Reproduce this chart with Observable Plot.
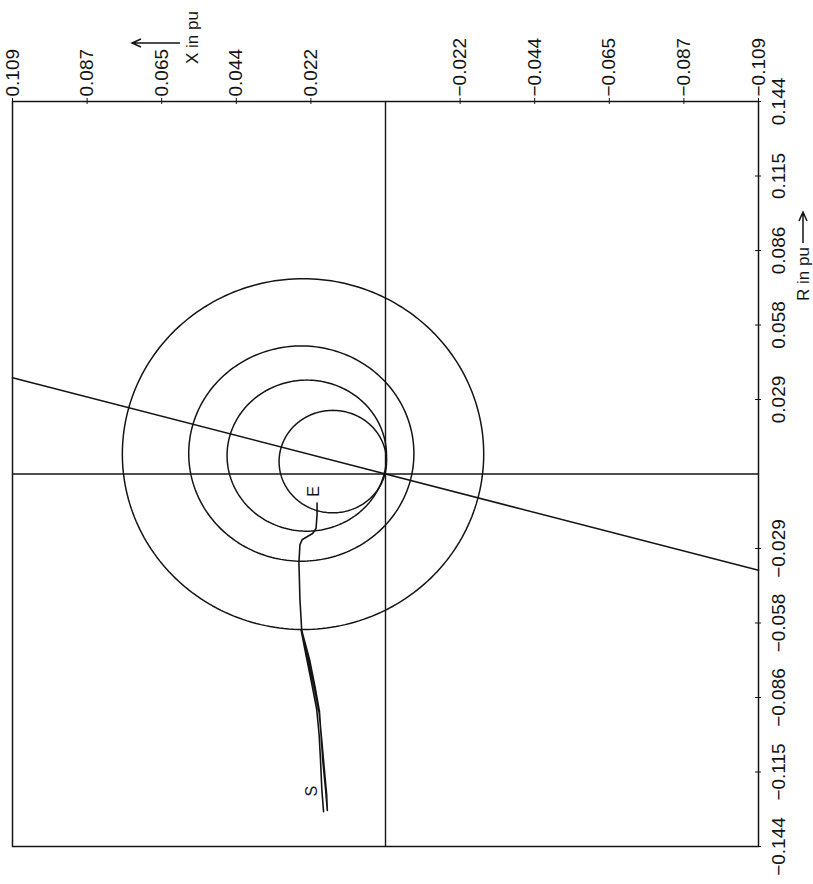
<!DOCTYPE html>
<html>
<head>
<meta charset="utf-8">
<script src="https://cdn.jsdelivr.net/npm/d3@7"></script>
<script src="https://cdn.jsdelivr.net/npm/@observablehq/plot@0.6"></script>
<style>
  html, body { margin: 0; padding: 0; background: #fff; }
  #wrap { position: relative; width: 813px; height: 884px; overflow: hidden; background: #fff; }
  /* the R–X diagram is drawn upright, then turned a quarter turn anticlockwise */
  #wrap svg { position: absolute; left: 0; top: 0; max-width: none !important; width: 884px !important; height: 813px !important;
              transform-origin: 0 0; transform: translateY(884px) rotate(-90deg); }
</style>
</head>
<body>
<div id="wrap"></div>
<script>
// Axis ticks (per-unit) and their printed labels
const rTicks = [-0.144, -0.1152, -0.0864, -0.0576, -0.0288, 0.0288, 0.0576, 0.0864, 0.1152, 0.144];
const rTickLabels = ["−0.144", "−0.115", "−0.086", "−0.058", "−0.029", "0.029", "0.058", "0.086", "0.115", "0.144"];
const xTicks = [-0.109, -0.0872, -0.0654, -0.0436, -0.0218, 0.0218, 0.0436, 0.0654, 0.0872, 0.109];
const xTickLabels = ["−0.109", "−0.087", "−0.065", "−0.044", "−0.022", "0.022", "0.044", "0.065", "0.087", "0.109"];

// Relay characteristic circles: centre and semi-axes (R, X in pu)
const circleCentreR = [0.0077, 0.0079, 0.0071, 0.0048];
const circleCentreX = [0.0241, 0.0246, 0.0230, 0.0154];
const circleRadiusR = [0.0678, 0.0416, 0.0292, 0.0198];
const circleRadiusX = [0.0528, 0.0329, 0.0233, 0.0157];

// Line impedance characteristic
const lineR = [-0.0372, 0.0372];
const lineX = [-0.109, 0.109];

// Apparent impedance locus from start (S) to end (E)
const trajR = [-0.1305, -0.1220, -0.1104, -0.1007, -0.0910, -0.0814, -0.0709, -0.0601,
               -0.0609, -0.0717, -0.0822, -0.0918, -0.1015, -0.1112, -0.1220, -0.1301,
               -0.1239, -0.1123, -0.1019, -0.0922, -0.0814, -0.0709, -0.0601,
               -0.0485, -0.0342, -0.0273, -0.0253, -0.0230, -0.0211, -0.0157, -0.0112];
const trajX = [0.0181, 0.0186, 0.0190, 0.0194, 0.0201, 0.0215, 0.0231, 0.0247,
               0.0244, 0.0222, 0.0206, 0.0193, 0.0188, 0.0183, 0.0175, 0.0170,
               0.0172, 0.0180, 0.0187, 0.0194, 0.0210, 0.0227, 0.0245,
               0.0250, 0.0253, 0.0250, 0.0243, 0.0213, 0.0203, 0.0200, 0.0200];

const pointLabels = ["S", "E"];
const pointLabelR = [-0.1226, -0.0067];
const pointLabelX = [0.0214, 0.0210];

// Build tables for the marks
const circleRows = [];
circleCentreR.forEach((cr, i) => {
  for (let k = 0; k <= 240; k++) {
    const t = (2 * Math.PI * k) / 240;
    circleRows.push({id: i, r: cr + circleRadiusR[i] * Math.cos(t), x: circleCentreX[i] + circleRadiusX[i] * Math.sin(t)});
  }
});
const lineRows = lineR.map((r, i) => ({r, x: lineX[i]}));
const trajRows = trajR.map((r, i) => ({r, x: trajX[i]}));
const labelRows = pointLabels.map((t, i) => ({t, r: pointLabelR[i], x: pointLabelX[i]}));

const ink = "#141414";
const chart = Plot.plot({
  width: 884,
  height: 813,
  marginLeft: 37,
  marginRight: 102,
  marginTop: 12,
  marginBottom: 55,
  x: {domain: [-0.144, 0.144]},
  y: {domain: [-0.109, 0.109]},
  style: {fontFamily: "'Liberation Sans', Arial, sans-serif", fontSize: "19px", color: ink, background: "#fff"},
  marks: [
    Plot.frame({stroke: ink, strokeWidth: 1.5}),
    Plot.ruleX([0], {stroke: ink, strokeWidth: 1.4}),
    Plot.ruleY([0], {stroke: ink, strokeWidth: 1.4}),
    Plot.line(circleRows, {x: "r", y: "x", z: "id", stroke: ink, strokeWidth: 1.5}),
    Plot.line(lineRows, {x: "r", y: "x", stroke: ink, strokeWidth: 1.5}),
    Plot.line(trajRows, {x: "r", y: "x", stroke: ink, strokeWidth: 1.6, strokeLinejoin: "round"}),
    Plot.text(labelRows, {x: "r", y: "x", text: "t", fontSize: 16, fill: ink}),
    Plot.axisX(rTicks, {anchor: "bottom", tickSize: 6, dy: -3, tickFormat: () => "", label: null}),
    Plot.axisX(rTicks, {anchor: "bottom", tickSize: 0, tickPadding: 13, tickFormat: d => rTickLabels[rTicks.indexOf(d)], label: null}),
    Plot.axisY(xTicks, {anchor: "right", tickSize: 6, dx: -3, tickFormat: () => "", label: null}),
    Plot.axisY(xTicks, {anchor: "right", tickSize: 0, tickPadding: 5, tickFormat: d => xTickLabels[xTicks.indexOf(d)], label: null})
  ]
});

// Axis titles with direction arrows
const svg = d3.select(chart);
const titles = svg.append("g").attr("fill", ink).attr("stroke", "none")
  .attr("text-anchor", "start").attr("font-size", 17);
titles.append("text").attr("x", 820).attr("y", 198).text("X in pu");
titles.append("text").attr("x", 583).attr("y", 809).text("R in pu");
const arrows = svg.append("g").attr("fill", "none").attr("stroke", ink).attr("stroke-width", 1.5);
arrows.append("path").attr("d", "M841,180V133M837,141L841,132L845,141");
arrows.append("path").attr("d", "M641,803H671M663,799L672,803L663,807");

document.getElementById("wrap").appendChild(chart);
</script>
</body>
</html>
